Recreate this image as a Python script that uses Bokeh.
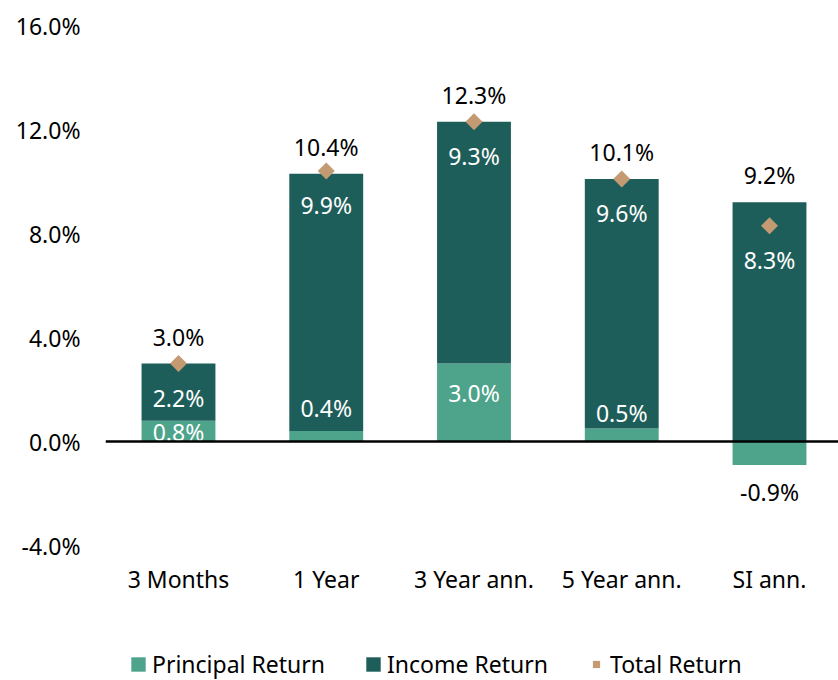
from bokeh.plotting import figure
from bokeh.layouts import column
from bokeh.models import (ColumnDataSource, Range1d, FixedTicker, PrintfTickFormatter,
                          Span, Legend, LegendItem)
from bokeh.core.properties import value
from bokeh.embed import file_html
from bokeh.resources import INLINE
import numpy as np

# ---- data ----
categories = ["3 Months", "1 Year", "3 Year ann.", "5 Year ann.", "SI ann."]
principal = [0.8, 0.4, 3.0, 0.5, -0.9]
income = [2.2, 9.9, 9.3, 9.6, 9.2]
total = [3.0, 10.4, 12.3, 10.1, 8.3]
top_labels = [3.0, 10.4, 12.3, 10.1, 9.2]
inner_labels = [2.2, 9.9, 9.3, 9.6, 8.3]
y_ticks = [-4, 0, 4, 8, 12, 16]
series_names = ["Principal Return", "Income Return", "Total Return"]

# ---- styles ----
FONT = "Noto Sans"
FS = "23px"
C_PRIN = "#4ea38b"
C_INC = "#1e5e5a"
C_TOT = "#c49a73"
p_label_offsets = [11, -23, 29, -16, 27]

xs = np.arange(len(categories))
prin = np.array(principal)
inc = np.array(income)
inc_bottom = np.maximum(prin, 0)
inc_top = inc_bottom + inc

src = ColumnDataSource(dict(
    x=xs, prin=prin, inc_bottom=inc_bottom, inc_top=inc_top, total=total,
    top_txt=[f"{v:.1f}%" for v in top_labels],
    inner_txt=[f"{v:.1f}%" for v in inner_labels],
    prin_txt=[f"{v:.1f}%" for v in principal],
    prin_col=["black" if v < 0 else "white" for v in principal],
    prin_off=p_label_offsets,
))

p = figure(width=838, height=620, output_backend="svg", toolbar_location=None,
           x_range=Range1d(-0.494, 4.467), y_range=Range1d(-4, 16),
           min_border_left=105, min_border_right=0, min_border_top=25,
           min_border_bottom=75)
p.outline_line_color = None
p.xgrid.visible = False
p.ygrid.visible = False

p.vbar(x="x", bottom=0, top="prin", width=0.5, source=src,
       fill_color=C_PRIN, line_color=None)
p.vbar(x="x", bottom="inc_bottom", top="inc_top", width=0.5, source=src,
       fill_color=C_INC, line_color=None)
p.add_layout(Span(location=0, dimension="width", line_color="black", line_width=2.5))
p.scatter(x="x", y="total", source=src, marker="square", size=12, angle=np.pi / 4,
          fill_color=C_TOT, line_color=None)

common = dict(text_align="center", text_baseline="middle",
              text_font=value(FONT), text_font_size=value(FS))
p.text(x="x", y="inc_top", text="top_txt", y_offset=-27, text_color="black",
       source=src, **common)
p.text(x="x", y="total", text="inner_txt", y_offset=34, text_color="white",
       source=src, **common)
p.text(x="x", y="prin", text="prin_txt", y_offset="prin_off", text_color="prin_col",
       source=src, **common)

# axes
for ax in (p.xaxis[0], p.yaxis[0]):
    ax.axis_line_color = None
    ax.major_tick_line_color = None
    ax.minor_tick_line_color = None
    ax.major_tick_out = 0
    ax.major_tick_in = 0
    ax.minor_tick_out = 0
    ax.major_label_text_font = FONT
    ax.major_label_text_font_size = FS
    ax.major_label_text_color = "black"

p.yaxis.ticker = FixedTicker(ticks=y_ticks)
p.yaxis.formatter = PrintfTickFormatter(format="%.1f%%")
p.yaxis.major_label_standoff = 25

p.xaxis.ticker = FixedTicker(ticks=list(xs))
p.xaxis.major_label_overrides = {int(i): c for i, c in zip(xs, categories)}
p.xaxis.major_label_standoff = 17

# ---- legend strip (same series, drawn outside its visible range) ----
lg = figure(width=838, height=60, output_backend="svg", toolbar_location=None,
            x_range=Range1d(-100, -99), y_range=Range1d(-100, -99),
            x_axis_type=None, y_axis_type=None,
            min_border_left=0, min_border_right=0, min_border_top=0, min_border_bottom=0)
lg.outline_line_color = None
lg.xgrid.visible = False
lg.ygrid.visible = False
l_prin = lg.vbar(x="x", bottom=0, top="prin", width=0.5, source=src,
                 fill_color=C_PRIN, line_color=None)
l_inc = lg.vbar(x="x", bottom="inc_bottom", top="inc_top", width=0.5, source=src,
                fill_color=C_INC, line_color=None)
l_tot = lg.scatter(x="x", y="total", source=src, marker="square", size=12,
                   angle=np.pi / 4, fill_color=C_TOT, line_color=None)

legend = Legend(items=[
    LegendItem(label=series_names[0], renderers=[l_prin]),
    LegendItem(label=series_names[1], renderers=[l_inc]),
    LegendItem(label=series_names[2], renderers=[l_tot]),
], orientation="horizontal", location=(24, 0))
legend.label_text_font = FONT
legend.label_text_font_size = FS
legend.label_text_color = "black"
legend.glyph_width = 18
legend.glyph_height = 18
legend.label_height = 26
legend.label_standoff = 5
legend.spacing = 39
legend.padding = 0
legend.margin = 0
legend.border_line_color = None
legend.background_fill_alpha = 0
lg.add_layout(legend)

layout = column(p, lg, spacing=0)
open("out.html", "w").write(file_html(layout, INLINE))
